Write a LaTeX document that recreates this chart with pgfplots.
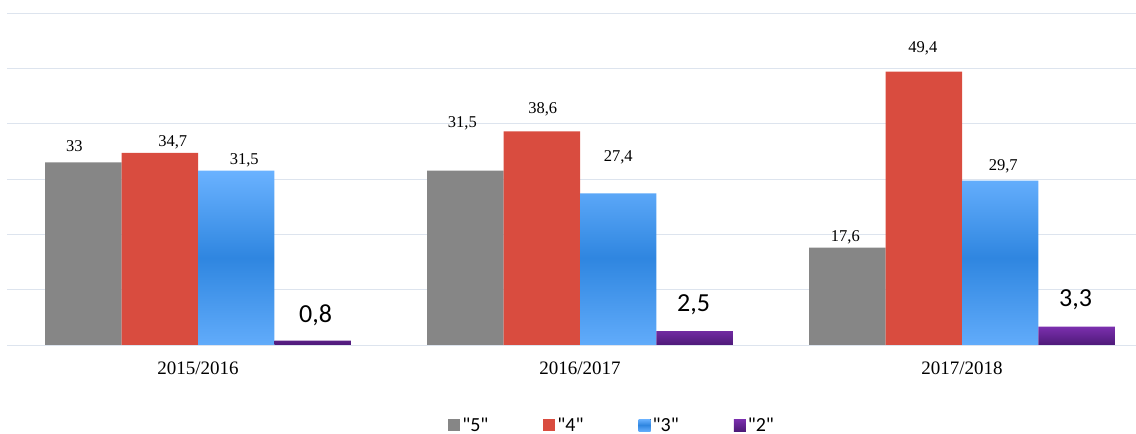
\documentclass[border=0pt]{standalone}
\usepackage{pgfplots}
\pgfplotsset{compat=1.18}
\usepackage{pgfplotstable}
\usepackage{fontspec}
\setmainfont{Liberation Serif}
\newfontfamily\carlito{Carlito}
\definecolor{cgray}{HTML}{868686}
\definecolor{cred}{HTML}{D94C3F}
\definecolor{cbluel}{HTML}{6AB2FF}
\definecolor{cblued}{HTML}{2F86E0}
\definecolor{cpurl}{HTML}{7B2FAE}
\definecolor{cpurd}{HTML}{4E1A78}
\definecolor{cgrid}{HTML}{DDE4EE}

\pgfplotstableread{
x y dx dy
0 33 -9 16
1 31.5 -3 47
2 17.6 -2 10
}\sfive
\pgfplotstableread{
x y dx dy
0 34.7 13 11
1 38.6 1 22
2 49.4 -1 23
}\sfour
\pgfplotstableread{
x y dx dy
0 31.5 8 10
1 27.4 0 36
2 29.7 3 14
}\sthree
\pgfplotstableread{
x y dx dy
0 0.8 3 25
1 2.5 -1 26
2 3.3 -1 27
}\stwo

\begin{document}
\begin{tikzpicture}
\begin{axis}[
  at={(7pt,89pt)}, anchor=south west,
  scale only axis, width=1129pt, height=332pt,
  xmin=-0.5, xmax=2.4555, ymin=0, ymax=60,
  ybar=0pt, bar width=0.2,
  axis line style={draw=none},
  ytick={0,10,...,60}, yticklabels={},
  ymajorgrids, grid style={color=cgrid, line width=0.9pt},
  major tick length=0pt,
  xtick={0,1,2}, xticklabels={2015/2016,2016/2017,2017/2018},
  xticklabel style={font=\fontsize{19}{21}\selectfont, anchor=center, yshift=-23pt},
  /pgf/number format/assume math mode=true,
  /pgf/number format/use comma,
  nodes near coords,
  visualization depends on={\thisrow{dx}\as\dx},
  visualization depends on={\thisrow{dy}\as\dy},
  every node near coord/.append style={anchor=center, xshift=\dx pt, yshift=\dy pt, text=black, font=\fontsize{16.5}{18}\selectfont},
  legend columns=4,
  legend style={at={(0.536,-0.241)}, anchor=center, draw=none, font=\carlito\fontsize{20}{21}\selectfont,
    /tikz/every even column/.append style={column sep=53pt}},
  legend image code/.code={\fill[#1] (0pt,-6pt) rectangle (12pt,6pt);},
]
\addplot[fill=cgray, draw=none] table[x=x,y=y] {\sfive};
\addlegendentry{"5"}
\addplot[fill=cred, draw=none] table[x=x,y=y] {\sfour};
\addlegendentry{"4"}
\addplot[top color=cbluel, bottom color=cbluel!85!cblued, middle color=cblued, draw=none] table[x=x,y=y] {\sthree};
\addlegendentry{"3"}
\addplot[top color=cpurl, bottom color=cpurd, draw=none,
  every node near coord/.append style={font=\carlito\fontsize{26}{28}\selectfont}] table[x=x,y=y] {\stwo};
\addlegendentry{"2"}
\end{axis}
\pgfresetboundingbox
\useasboundingbox (0,0) rectangle (1136pt,434pt);
\end{tikzpicture}
\end{document}
